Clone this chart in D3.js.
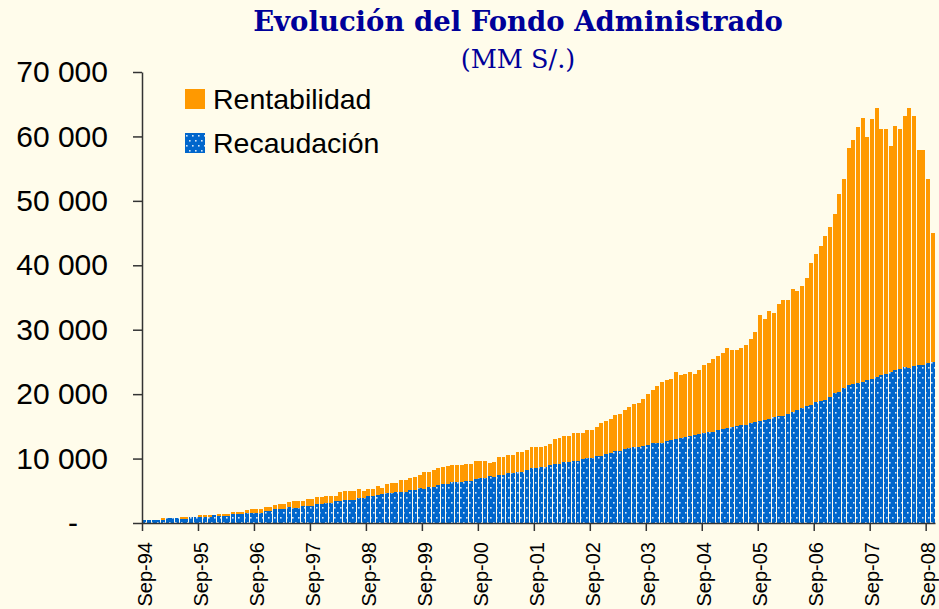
<!DOCTYPE html>
<meta charset="utf-8">
<script src="https://d3js.org/d3.v7.min.js"></script>
<style>
  body { margin: 0; background: #fffceb; }
  svg { display: block; }
</style>
<div id="my_dataviz"></div>
<script>

// months Sep-94 .. Oct-08 (one bar per month)
var meses = d3.timeMonth.range(new Date(1994, 8, 1), new Date(2008, 10, 1));

// total administered fund (MM S/.)
var fondo = [
  400, 450, 470, 480, 780, 780, 800, 820, 930, 930, 930, 930,
  1240, 1240, 1240, 1240, 1400, 1400, 1400, 1700, 1700, 1720, 2000, 2170,
  2170, 2170, 2480, 2480, 2790, 2950, 2950, 3260, 3410, 3410, 3410, 3720,
  3720, 4030, 4030, 4190, 4190, 4190, 4810, 4960, 4960, 4960, 5270, 4960,
  5270, 5270, 5740, 5430, 6050, 6200, 6200, 6670, 6670, 6980, 7130, 7440,
  7910, 7910, 8220, 8530, 8690, 8840, 9000, 9000, 9000, 9150, 9150, 9550,
  9700, 9620, 9310, 9470, 10240, 10240, 10550, 10550, 11020, 11020, 11330, 11790,
  11790, 11790, 11950, 12260, 13040, 13190, 13500, 13500, 13970, 13970, 13970, 14430,
  14430, 14900, 15520, 15830, 16140, 16760, 16920, 17540, 18000, 18470, 18620, 19240,
  20020, 20640, 21260, 21880, 22190, 22350, 23430, 22970, 23120, 23430, 23120, 23740,
  24520, 24830, 25450, 25920, 26380, 27160, 26850, 26850, 27160, 27620, 28560, 29640,
  32280, 31660, 32900, 32590, 33990, 34610, 34610, 36320, 36000, 36780, 38020, 40350,
  41750, 42990, 44540, 45940, 47950, 51060, 53390, 58200, 59440, 61460, 62850, 59900,
  62700, 64400, 61150, 61150, 58510, 61610, 61150, 63160, 64400, 63160, 57890, 57890,
  53390, 45000
];

// Recaudación (collected contributions)
var recaudacion = [
  400, 450, 470, 480, 480, 780, 780, 800, 620, 620, 930, 930,
  930, 960, 980, 1240, 1090, 1090, 1100, 1400, 1400, 1420, 1550, 1550,
  1560, 1570, 1860, 1870, 2170, 2170, 2180, 2480, 2330, 2340, 2640, 2640,
  2650, 2950, 2960, 3100, 3100, 3410, 3410, 3570, 3570, 3570, 3880, 3880,
  4190, 4190, 4340, 4500, 4650, 4650, 4810, 4810, 4810, 5120, 5120, 5430,
  5270, 5580, 5580, 5890, 6050, 6050, 6360, 6360, 6360, 6510, 6510, 6820,
  6980, 6980, 7290, 7140, 7450, 7450, 7760, 7760, 7910, 7910, 8230, 8540,
  8540, 8690, 8690, 9000, 9160, 9160, 9470, 9470, 9620, 9620, 9930, 10090,
  10090, 10400, 10400, 10710, 10860, 11170, 11170, 11480, 11640, 11790, 11790, 11950,
  12100, 12420, 12420, 12420, 12730, 12880, 13040, 13270, 13350, 13500, 13660, 13810,
  13970, 14120, 14200, 14430, 14590, 14740, 14900, 15050, 15210, 15210, 15520, 15670,
  15830, 15980, 16140, 16450, 16610, 16610, 16920, 17230, 17540, 17850, 18160, 18310,
  18780, 18930, 19090, 19550, 20170, 20330, 20950, 21420, 21570, 21730, 21880, 22190,
  22350, 22660, 22970, 23120, 23430, 23740, 23900, 24210, 24050, 24360, 24520, 24520,
  24830, 24990
];

var yTicks = [0, 10000, 20000, 30000, 40000, 50000, 60000, 70000];
var xTickLabels = ["Sep-94", "Sep-95", "Sep-96", "Sep-97", "Sep-98", "Sep-99", "Sep-00",
  "Sep-01", "Sep-02", "Sep-03", "Sep-04", "Sep-05", "Sep-06", "Sep-07", "Sep-08"];

// Rentabilidad = fondo - recaudación
var data = meses.map(function(m, i) {
  return {mes: i, recaudacion: recaudacion[i], rentabilidad: fondo[i] - recaudacion[i]};
});

var W = 939, H = 609;
var plot = {left: 142, right: 935, top: 72, bottom: 523};

var svg = d3.select("#my_dataviz")
  .append("svg")
    .attr("width", W)
    .attr("height", H);

svg.append("rect")
    .attr("width", W)
    .attr("height", H)
    .attr("fill", "#fffceb");

// dotted blue fill for Recaudación
var pat = svg.append("defs").append("pattern")
    .attr("id", "dots")
    .attr("patternUnits", "userSpaceOnUse")
    .attr("width", 6)
    .attr("height", 10);
pat.append("rect").attr("width", 6).attr("height", 10).attr("fill", "#0066cc");
pat.append("rect").attr("x", 1).attr("y", 2).attr("width", 1.6).attr("height", 1.6).attr("fill", "#d6e6f8");
pat.append("rect").attr("x", 4).attr("y", 7).attr("width", 1.6).attr("height", 1.6).attr("fill", "#d6e6f8");

// title
svg.append("text")
    .attr("x", 518)
    .attr("y", 31)
    .attr("text-anchor", "middle")
    .style("font-family", "DejaVu Serif")
    .style("font-weight", "bold")
    .style("font-size", "27.5px")
    .style("fill", "#000099")
    .text("Evolución del Fondo Administrado");

svg.append("text")
    .attr("x", 518)
    .attr("y", 68)
    .attr("text-anchor", "middle")
    .style("font-family", "DejaVu Serif")
    .style("font-size", "25.5px")
    .style("fill", "#000099")
    .text("(MM S/.)");

// scales
var x = d3.scaleBand()
  .domain(data.map(function(d) { return d.mes; }))
  .range([plot.left, plot.right])
  .paddingInner(0.15)
  .paddingOuter(0.07);

var xAxisScale = d3.scaleLinear()
  .domain([0, data.length])
  .range([plot.left, plot.right]);

var y = d3.scaleLinear()
  .domain([0, 70000])
  .range([plot.bottom, plot.top]);

var colors = {recaudacion: "url(#dots)", rentabilidad: "#ff9900"};

var series = d3.stack()
  .keys(["recaudacion", "rentabilidad"])(data);

svg.append("g")
  .selectAll("g")
  .data(series)
  .enter()
  .append("g")
    .attr("fill", function(s) { return colors[s.key]; })
  .selectAll("rect")
  .data(function(s) { return s; })
  .enter()
  .append("rect")
    .attr("x", function(d) { return x(d.data.mes); })
    .attr("width", x.bandwidth())
    .attr("y", function(d) { return y(d[1]); })
    .attr("height", function(d) { return Math.max(0, y(d[0]) - y(d[1])); })
    .attr("shape-rendering", "crispEdges");

// Y axis
var yAxis = svg.append("g")
    .attr("transform", "translate(" + plot.left + ",0)")
    .call(d3.axisLeft(y)
      .tickValues(yTicks)
      .tickSize(9)
      .tickSizeOuter(0)
      .tickPadding(25)
      .tickFormat(function(d) { return d === 0 ? "-" : d3.format(",")(d).replace(",", " "); }));

yAxis.selectAll("text")
    .style("font-family", "Liberation Sans, Arial, sans-serif")
    .style("font-size", "30px")
    .style("fill", "#000")
    .attr("dx", function(d) { return d === 0 ? -30 : 0; });

// X axis
var xAxis = svg.append("g")
    .attr("transform", "translate(0," + plot.bottom + ")")
    .call(d3.axisBottom(xAxisScale)
      .tickValues(xTickLabels.map(function(l, k) { return k * 12; }))
      .tickSize(8)
      .tickSizeOuter(0)
      .tickFormat(function(d, k) { return xTickLabels[k]; }));

xAxis.selectAll("text")
    .style("font-family", "Liberation Sans, Arial, sans-serif")
    .style("font-size", "20px")
    .style("fill", "#000")
    .attr("text-anchor", "end")
    .attr("transform", "translate(2,19) rotate(-90)")
    .attr("x", 0)
    .attr("y", 0)
    .attr("dy", "0.36em");

svg.selectAll(".domain, .tick line")
    .attr("stroke", "#333")
    .attr("stroke-width", 1.5);

// legend
var legend = [
  {label: "Rentabilidad", fill: "#ff9900", y: 99},
  {label: "Recaudación", fill: "url(#dots)", y: 143}
];
var lg = svg.append("g")
  .selectAll("g")
  .data(legend)
  .enter()
  .append("g")
    .attr("transform", function(d) { return "translate(185," + d.y + ")"; });

lg.append("rect")
    .attr("x", 0)
    .attr("y", -10)
    .attr("width", 20)
    .attr("height", 20)
    .attr("fill", function(d) { return d.fill; });

lg.append("text")
    .attr("x", 28)
    .attr("y", 10)
    .style("font-family", "Liberation Sans, Arial, sans-serif")
    .style("font-size", "28.5px")
    .text(function(d) { return d.label; });

</script>
